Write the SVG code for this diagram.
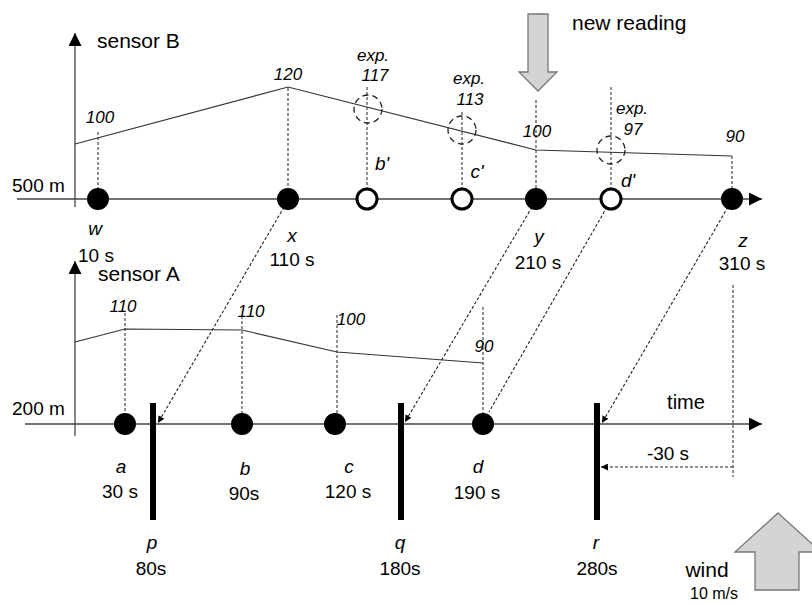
<svg xmlns="http://www.w3.org/2000/svg" width="812" height="604" viewBox="0 0 812 604">
<defs>
<marker id="ah" viewBox="0 0 10 10" refX="10" refY="5" markerWidth="7" markerHeight="7" orient="auto" markerUnits="userSpaceOnUse">
<path d="M0,0 L10,5 L0,10 z" fill="#000"/>
</marker>
<marker id="axh" viewBox="0 0 10 10" refX="10" refY="5" markerWidth="13" markerHeight="13" orient="auto" markerUnits="userSpaceOnUse">
<path d="M0,0 L10,5 L0,10 z" fill="#000"/>
</marker>
</defs>
<style>
text{font-family:"Liberation Sans",Arial,sans-serif;fill:#000}
.lbl{font-size:19px}
.big-lbl{font-size:21px}
.it{font-style:italic}
.val{font-size:17px;font-style:italic}
.axis{stroke:#444;stroke-width:1.3;fill:none}
.curve{stroke:#333;stroke-width:1.2;fill:none}
.vd{stroke:#222;stroke-width:1;stroke-dasharray:3,2;fill:none}
.conn{stroke:#222;stroke-width:1.1;stroke-dasharray:3,2;fill:none}
.dot{fill:#000}
.hol{fill:#fff;stroke:#000;stroke-width:3}
.exp{fill:none;stroke:#222;stroke-width:1.3;stroke-dasharray:6,4}
.bar{fill:#000}
.big{fill:#d4d4d4;stroke:#777;stroke-width:1.3}
</style>

<g id="axes">
<line class="axis" x1="75" y1="207" x2="75" y2="33" marker-end="url(#axh)"/>
<line class="axis" x1="17" y1="199" x2="762" y2="199" marker-end="url(#axh)"/>
<line class="axis" x1="75" y1="436" x2="75" y2="261" marker-end="url(#axh)"/>
<line class="axis" x1="25" y1="424" x2="762" y2="424" marker-end="url(#axh)"/>
<text class="big-lbl" x="97" y="48">sensor B</text>
<text class="lbl" x="12" y="192">500 m</text>
<text class="big-lbl" x="98" y="281">sensor A</text>
<text class="lbl" x="12" y="415">200 m</text>
<text class="lbl" x="686" y="409" text-anchor="middle" style="font-size:20px">time</text>
</g>

<g id="curves">
<polyline class="curve" points="75,144 288,87 536,150 732,156"/>
<polyline class="curve" points="75,342 125,329 242,330 337,352 483,363"/>
</g>

<g id="guides">
<line class="vd" x1="98" y1="132" x2="98" y2="199"/>
<line class="vd" x1="288" y1="88" x2="288" y2="199"/>
<line class="vd" x1="367" y1="87" x2="367" y2="199"/>
<line class="vd" x1="462" y1="112" x2="462" y2="199"/>
<line class="vd" x1="536" y1="100" x2="536" y2="199"/>
<line class="vd" x1="611" y1="87" x2="611" y2="199"/>
<line class="vd" x1="732" y1="156" x2="732" y2="199"/>
<line class="vd" x1="125" y1="313" x2="125" y2="424"/>
<line class="vd" x1="242" y1="316" x2="242" y2="424"/>
<line class="vd" x1="337" y1="315" x2="337" y2="424"/>
<line class="vd" x1="483" y1="307" x2="483" y2="424"/>
<line class="vd" x1="733" y1="285" x2="733" y2="477"/>
</g>

<g id="values">
<text class="val" x="100" y="123" text-anchor="middle">100</text>
<text class="val" x="288" y="80" text-anchor="middle">120</text>
<text class="val" x="373" y="61" text-anchor="middle">exp.</text>
<text class="val" x="375" y="81" text-anchor="middle">117</text>
<text class="val" x="469" y="84" text-anchor="middle">exp.</text>
<text class="val" x="470" y="105" text-anchor="middle">113</text>
<text class="val" x="537" y="137" text-anchor="middle">100</text>
<text class="val" x="632" y="114" text-anchor="middle">exp.</text>
<text class="val" x="633" y="135" text-anchor="middle">97</text>
<text class="val" x="735" y="142" text-anchor="middle">90</text>
<text class="val" x="123" y="312" text-anchor="middle">110</text>
<text class="val" x="251" y="317" text-anchor="middle">110</text>
<text class="val" x="351" y="325" text-anchor="middle">100</text>
<text class="val" x="484" y="352" text-anchor="middle">90</text>
</g>

<g id="expected">
<circle class="exp" cx="368" cy="109" r="14"/>
<circle class="exp" cx="462" cy="130" r="14"/>
<circle class="exp" cx="611" cy="150" r="14"/>
</g>

<g id="connectors">
<line class="conn" x1="284" y1="207" x2="158" y2="423" marker-end="url(#ah)"/>
<line class="conn" x1="532" y1="207" x2="405" y2="422" marker-end="url(#ah)"/>
<line class="conn" x1="607" y1="207" x2="489" y2="412"/>
<line class="conn" x1="728" y1="207" x2="602" y2="423" marker-end="url(#ah)"/>
<line class="conn" x1="733" y1="467" x2="601" y2="467" marker-end="url(#ah)"/>
</g>

<g id="node-w"><circle class="dot" cx="98" cy="199" r="11"/><text class="lbl it" x="95" y="235" text-anchor="middle">w</text><text class="lbl" x="96" y="262" text-anchor="middle">10 s</text></g>
<g id="node-x"><circle class="dot" cx="288" cy="199" r="11"/><text class="lbl it" x="292" y="242" text-anchor="middle">x</text><text class="lbl" x="292" y="266" text-anchor="middle">110 s</text></g>
<g id="node-b2"><circle class="hol" cx="367" cy="199" r="10"/><text class="lbl it" x="382" y="170" text-anchor="middle">b'</text></g>
<g id="node-c2"><circle class="hol" cx="462" cy="199" r="10"/><text class="lbl it" x="477" y="178" text-anchor="middle">c'</text></g>
<g id="node-y"><circle class="dot" cx="536" cy="199" r="11"/><text class="lbl it" x="539" y="243" text-anchor="middle">y</text><text class="lbl" x="538" y="269" text-anchor="middle">210 s</text></g>
<g id="node-d2"><circle class="hol" cx="611" cy="199" r="10"/><text class="lbl it" x="628" y="187" text-anchor="middle">d'</text></g>
<g id="node-z"><circle class="dot" cx="732" cy="199" r="11"/><text class="lbl it" x="743" y="247" text-anchor="middle">z</text><text class="lbl" x="742" y="270" text-anchor="middle">310 s</text></g>

<g id="node-a"><circle class="dot" cx="125" cy="424" r="11"/><text class="lbl it" x="121" y="473" text-anchor="middle">a</text><text class="lbl" x="120" y="498" text-anchor="middle">30 s</text></g>
<g id="node-b"><circle class="dot" cx="242" cy="424" r="11"/><text class="lbl it" x="245" y="475" text-anchor="middle">b</text><text class="lbl" x="244" y="500" text-anchor="middle">90s</text></g>
<g id="node-c"><circle class="dot" cx="335" cy="424" r="11"/><text class="lbl it" x="349" y="473" text-anchor="middle">c</text><text class="lbl" x="348" y="498" text-anchor="middle">120 s</text></g>
<g id="node-d"><circle class="dot" cx="483" cy="424" r="11"/><text class="lbl it" x="478" y="473" text-anchor="middle">d</text><text class="lbl" x="477" y="499" text-anchor="middle">190 s</text></g>

<g id="node-p"><rect class="bar" x="150" y="403" width="6" height="117"/><text class="lbl it" x="152" y="549" text-anchor="middle">p</text><text class="lbl" x="151" y="575" text-anchor="middle">80s</text></g>
<g id="node-q"><rect class="bar" x="398" y="403" width="6" height="117"/><text class="lbl it" x="400" y="549" text-anchor="middle">q</text><text class="lbl" x="400" y="575" text-anchor="middle">180s</text></g>
<g id="node-r"><rect class="bar" x="594" y="403" width="6" height="117"/><text class="lbl it" x="596" y="549" text-anchor="middle">r</text><text class="lbl" x="597" y="575" text-anchor="middle">280s</text></g>

<g id="offset"><text class="lbl" x="668" y="460" text-anchor="middle">-30 s</text></g>

<g id="new-reading">
<polygon class="big" points="528,14 548,14 548,72 557,72 538,91 519,72 528,72"/>
<text class="big-lbl" x="572" y="30">new reading</text>
</g>

<g id="wind">
<polygon class="big" points="778,513 821,552 799,552 799,590 755,590 755,552 735,552"/>
<text class="big-lbl" x="707" y="577" text-anchor="middle">wind</text>
<text x="714" y="599" text-anchor="middle" style="font-size:16px">10 m/s</text>
</g>
</svg>
